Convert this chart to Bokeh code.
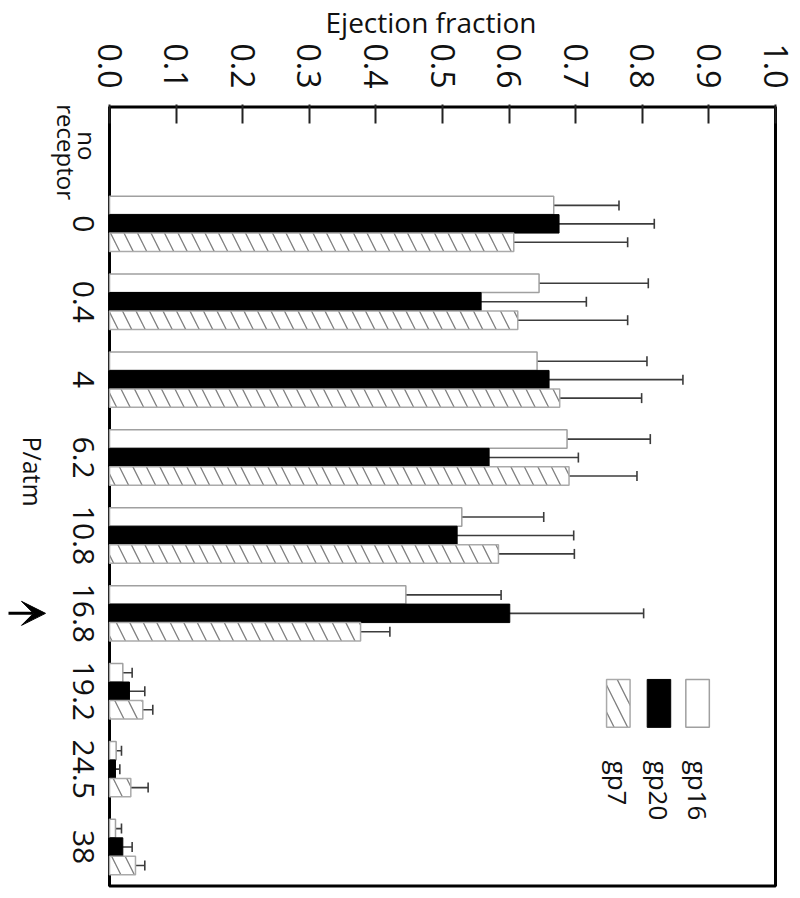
import math
from bokeh.plotting import figure
from bokeh.models import (ColumnDataSource, Range1d, FixedTicker, Whisker, TeeHead,
                          Arrow, VeeHead)
from bokeh.embed import file_html
from bokeh.resources import INLINE
from bokeh.core.properties import value

# ---------------- data ----------------
categories = ["no\nreceptor", "0", "0.4", "4", "6.2", "10.8", "16.8", "19.2", "24.5", "38"]
pressures = ["0", "0.4", "4", "6.2", "10.8", "16.8", "19.2", "24.5", "38"]
series_names = ["gp16", "gp20", "gp7"]

gp16 = [0.667, 0.645, 0.642, 0.687, 0.529, 0.445, 0.020, 0.010, 0.009]
gp16_err = [0.098, 0.164, 0.165, 0.125, 0.123, 0.143, 0.014, 0.008, 0.009]
gp20 = [0.675, 0.558, 0.660, 0.570, 0.522, 0.601, 0.030, 0.009, 0.020]
gp20_err = [0.143, 0.158, 0.201, 0.134, 0.175, 0.201, 0.023, 0.0065, 0.014]
gp7 = [0.607, 0.613, 0.676, 0.690, 0.584, 0.377, 0.050, 0.032, 0.039]
gp7_err = [0.171, 0.165, 0.123, 0.102, 0.114, 0.044, 0.015, 0.026, 0.014]

x_ticks = [0.0, 0.1, 0.2, 0.3, 0.4, 0.5, 0.6, 0.7, 0.8, 0.9, 1.0]
x_tick_labels = ["0.0", "0.1", "0.2", "0.3", "0.4", "0.5", "0.6", "0.7", "0.8", "0.9", "1.0"]
x_title = "Ejection fraction"
y_title = "P/atm"
marked_pressure = "16.8"

FONT = "Open Sans"
TXT = "#111111"

n = len(categories)
PX_X = 1 / 666.0      # one pixel in x data units
PX_Y = 1 / 78.1       # one pixel in y data units (category units)

# the plotting frame also holds the left-hand labels (x < 0); the boxed area is 0..1
x_range = Range1d(-109 * PX_X, 1 + 2 * PX_X)
y_range = Range1d(n + 2.5 * PX_Y, -2.5 * PX_Y)

p = figure(width=800, height=890,
           x_range=x_range, y_range=y_range,
           x_axis_location="above", y_axis_location=None,
           output_backend="svg", toolbar_location=None,
           min_border_left=0, min_border_right=23,
           min_border_top=102, min_border_bottom=2)
p.xgrid.grid_line_color = None
p.ygrid.grid_line_color = None
p.outline_line_color = None
p.background_fill_color = "white"
p.border_fill_color = "white"

# frame box around 0..1
p.quad(left=[0], right=[1], top=[0], bottom=[n], fill_color=None,
       line_color="black", line_width=3)

# ---------------- bars + error bars ----------------
bar_h = 0.237
offsets = [-bar_h, 0.0, bar_h]
styles = [
    dict(fill_color="white", line_color="#a0a0a0", line_width=1.5),
    dict(fill_color="black", line_color="black", line_width=1),
    dict(fill_color="white", line_color="#aaaaaa", line_width=1.5,
         hatch_pattern="left_diagonal_line", hatch_color="#808080",
         hatch_weight=1.3, hatch_scale=27),
]
all_vals = [gp16, gp20, gp7]
all_errs = [gp16_err, gp20_err, gp7_err]

first_idx = categories.index(pressures[0])
for vals, errs, off, st in zip(all_vals, all_errs, offsets, styles):
    ys = [first_idx + i + 0.5 + off for i in range(len(pressures))]
    src = ColumnDataSource(dict(
        y=ys, v=vals,
        lo=[v - e for v, e in zip(vals, errs)],
        hi=[v + e for v, e in zip(vals, errs)],
    ))
    p.hbar(y="y", left=0, right="v", height=bar_h, source=src, **st)
    p.add_layout(Whisker(base="y", lower="lo", upper="hi", dimension="width", source=src,
                         line_color="#3c3c3c", line_width=1.6,
                         lower_head=TeeHead(size=10, line_color="#3c3c3c", line_width=1.6),
                         upper_head=TeeHead(size=10, line_color="#3c3c3c", line_width=1.6)))

# ---------------- top axis ----------------
xa = p.xaxis[0]
xa.ticker = FixedTicker(ticks=x_ticks)
xa.major_label_overrides = {t: l for t, l in zip(x_ticks, x_tick_labels)}
xa.major_label_orientation = -math.pi / 2
xa.major_tick_in = 19
xa.major_tick_out = 0
xa.major_tick_line_width = 2
xa.major_tick_line_color = "#222222"
xa.minor_tick_line_color = None
xa.axis_line_color = None
xa.major_label_text_font = FONT
xa.major_label_text_font_size = "32px"
xa.major_label_text_color = TXT
xa.major_label_standoff = 16

p.title.text = x_title
p.title.align = "left"
p.title.offset = 325
p.title.text_font = FONT
p.title.text_font_size = "28px"
p.title.text_font_style = "normal"
p.title.text_color = TXT
p.title.standoff = 0

# ---------------- category labels on the left (rotated clockwise) ----------------
lab_x, lab_y, lab_t, lab_s = [], [], [], []
for i, cat in enumerate(categories):
    lines = cat.split("\n")
    if len(lines) == 1:
        lab_x.append(-26 * PX_X)
        lab_y.append(i + 0.5)
        lab_t.append(cat)
        lab_s.append("30px")
    else:
        for j, ln in enumerate(lines):      # first line nearest the frame
            lab_x.append((-22 - 21 * j) * PX_X)
            lab_y.append(i + 0.5 + 0.08 * j)
            lab_t.append(ln)
            lab_s.append("24px")
lab_src = ColumnDataSource(dict(x=lab_x, y=lab_y, t=lab_t, s=lab_s))
p.text(x="x", y="y", text="t", text_font_size="s", source=lab_src,
       angle=-math.pi / 2, text_align="center", text_baseline="middle",
       text_font=value(FONT), text_color=TXT)

p.text(x=[-77 * PX_X], y=[4.68], text=[y_title], angle=-math.pi / 2,
       text_align="center", text_baseline="middle",
       text_font=value(FONT), text_font_size="25px", text_color=TXT)

ym = categories.index(marked_pressure) + 0.5
p.add_layout(Arrow(end=VeeHead(size=24, fill_color="black", line_color="black"),
                   x_start=-101 * PX_X, y_start=ym, x_end=-64 * PX_X, y_end=ym,
                   line_width=3, line_color="black"))

# ---------------- legend (rotated, drawn by hand) ----------------
leg_x = [0.883, 0.825, 0.764]
leg_y = 7.656
for lx, st in zip(leg_x, styles):
    p.rect(x=[lx], y=[leg_y], width=0.0353, height=0.615, **st)
p.text(x=leg_x, y=[8.39] * 3, text=series_names, angle=-math.pi / 2,
       text_align="left", text_baseline="middle",
       text_font=value(FONT), text_font_size="26px", text_color=TXT)

open("out.html", "w").write(file_html(p, INLINE))
